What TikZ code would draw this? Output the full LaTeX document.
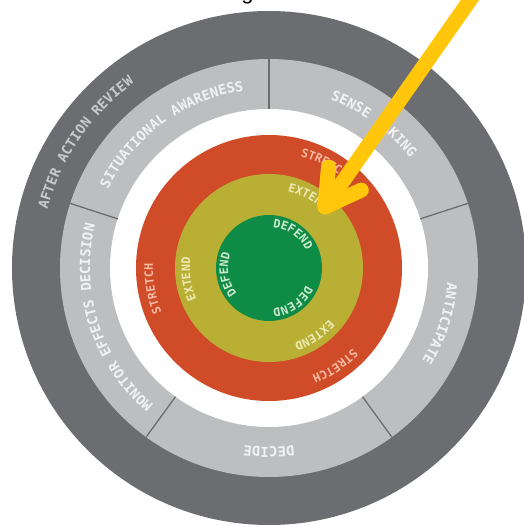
\documentclass[tikz,border=0pt]{standalone}
\usepackage{fontspec}
\newfontfamily\ringfont{DejaVu Sans Mono}
\newfontfamily\titlefont{Liberation Sans}
\usetikzlibrary{decorations.text}
\definecolor{darkring}{HTML}{6C6D71}
\definecolor{lightring}{HTML}{BDBEC0}
\definecolor{redring}{HTML}{D04B28}
\definecolor{olivering}{HTML}{B9AF34}
\definecolor{greenring}{HTML}{0E8C45}
\definecolor{arrowyellow}{HTML}{FFC60B}
\definecolor{lighttext}{HTML}{F2F2F2}
\definecolor{darktext}{HTML}{C9CACC}
\definecolor{stretchtext}{HTML}{F3B9A2}
\definecolor{extendtext}{HTML}{ECE9B4}
\definecolor{defendtext}{HTML}{CBE8CF}
\tikzset{
  divider/.style={draw=darkring, line width=1.3pt},
  arrowline/.style={draw=arrowyellow, line width=15pt, line cap=round, line join=round},
}
% #1 baseline radius, #2 centre angle, #3 half span, #4 format, #5 text
\newcommand\ringlabel[5]{%
  \path[decorate, decoration={text along path, text={|#4|#5}, text align=center}]
    ({#2+#3}:#1) arc[start angle={#2+#3}, end angle={#2-#3}, radius=#1];}
\begin{document}
\begin{tikzpicture}
\useasboundingbox (-269pt,-257pt) rectangle (255pt,268pt);
\clip (-269pt,-257pt) rectangle (255pt,268pt);
\coordinate (c) at (0,0);
% title fragment
\node[anchor=base, inner sep=0pt, font=\titlefont\fontsize{22}{26}\selectfont] (title) at (-21.5pt,268pt) {g};
% rings
\fill[darkring] (c) circle[radius=257pt];
\fill[lightring] (c) circle[radius=209pt];
\fill[white] (c) circle[radius=159pt];
\fill[redring] (c) circle[radius=133pt];
\fill[olivering] (c) circle[radius=94pt];
\fill[greenring] (c) circle[radius=53pt];
% dividers
\foreach \a in {90,162,234,306,18}
  \draw[divider] (\a:159pt) -- (\a:209pt);
% outer labels
\ringlabel{229pt}{145.7}{70}{\ringfont\bfseries\fontsize{13.7}{16}\selectfont\color{darktext}}{AFTER ACTION REVIEW}
\ringlabel{179pt}{126}{36}{\ringfont\bfseries\fontsize{13.8}{16}\selectfont\color{lighttext}}{SITUATIONAL AWARENESS}
\ringlabel{179pt}{54}{36}{\ringfont\bfseries\fontsize{13.8}{16}\selectfont\color{lighttext}}{SENSE MAKING}
\ringlabel{179pt}{342}{36}{\ringfont\bfseries\fontsize{13.8}{16}\selectfont\color{lighttext}}{ANTICIPATE}
\ringlabel{179pt}{270}{36}{\ringfont\bfseries\fontsize{13.8}{16}\selectfont\color{lighttext}}{DECIDE}
\ringlabel{179pt}{198}{36}{\ringfont\bfseries\fontsize{13.8}{16}\selectfont\color{lighttext}}{MONITOR EFFECTS DECISION}
% inner labels
\foreach \ang in {62,190,304}
  \ringlabel{116pt}{\ang}{40}{\ringfont\bfseries\fontsize{11.8}{14}\selectfont\color{stretchtext}}{STRETCH};
\foreach \ang in {61,188,304}
  \ringlabel{79pt}{\ang}{45}{\ringfont\bfseries\fontsize{11.8}{14}\selectfont\color{extendtext}}{EXTEND};
\foreach \ang in {55,189,305}
  \ringlabel{41pt}{\ang}{70}{\ringfont\bfseries\fontsize{11.8}{14}\selectfont\color{defendtext}}{DEFEND};
% arrow
\coordinate (tail) at (215pt,288pt);
\coordinate (tip) at (56pt,61pt);
\coordinate (armup) at (59.5pt,100.8pt);
\coordinate (armright) at (92.3pt,77.9pt);
\draw[arrowline] (tail) -- (tip);
\draw[arrowline] (armup) -- (tip) -- (armright);
\end{tikzpicture}
\end{document}
